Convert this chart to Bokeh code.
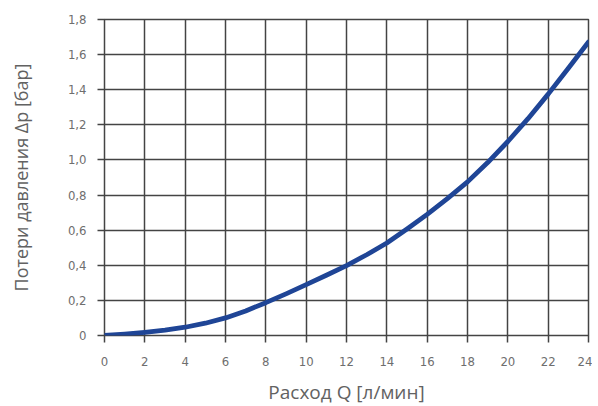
from bokeh.plotting import figure
from bokeh.models import Range1d, FixedTicker
from bokeh.embed import file_html
from bokeh.resources import INLINE

flow = [0, 1, 2, 3, 4, 5, 6, 7, 8, 9, 10, 11, 12, 13, 14, 15, 16, 17, 18, 19, 20, 21, 22, 23, 24]
dp = [0.0, 0.008, 0.018, 0.03, 0.047, 0.07, 0.10, 0.14, 0.187, 0.237, 0.29, 0.343, 0.398,
      0.46, 0.527, 0.607, 0.69, 0.78, 0.875, 0.985, 1.105, 1.235, 1.375, 1.522, 1.672]

x_ticks = [0, 2, 4, 6, 8, 10, 12, 14, 16, 18, 20, 22, 24]
y_ticks = [0, 0.2, 0.4, 0.6, 0.8, 1.0, 1.2, 1.4, 1.6, 1.8]
y_labels = ["0", "0,2", "0,4", "0,6", "0,8", "1,0", "1,2", "1,4", "1,6", "1,8"]

GRID = "#444444"
TICKTXT = "#6e6e6e"
TXT = "#626262"
TICKFONT = "'Liberation Sans Narrow', 'DejaVu Sans Condensed', 'Roboto', sans-serif"

p = figure(width=592, height=400, output_backend="svg", toolbar_location=None,
           x_range=Range1d(0, 24), y_range=Range1d(0, 1.8),
           min_border_left=104, min_border_right=4, min_border_top=19, min_border_bottom=65,
           frame_width=484, frame_height=316)

p.outline_line_color = GRID
p.outline_line_width = 1.5
p.background_fill_color = "white"
p.border_fill_color = "white"

p.xaxis.ticker = FixedTicker(ticks=x_ticks)
p.yaxis.ticker = FixedTicker(ticks=y_ticks)
p.yaxis.major_label_overrides = {t: l for t, l in zip(y_ticks, y_labels)}

for ax in (p.xaxis[0], p.yaxis[0]):
    ax.axis_line_color = None
    ax.major_tick_line_color = GRID
    ax.major_tick_line_width = 1.5
    ax.major_tick_out = 7
    ax.major_tick_in = 0
    ax.minor_tick_line_color = None
    ax.major_label_text_color = TICKTXT
    ax.major_label_text_font = TICKFONT
    ax.major_label_text_font_size = "13px"
    ax.axis_label_text_color = TXT
    ax.axis_label_text_font = "Open Sans"
    ax.axis_label_text_font_style = "normal"

p.xaxis.axis_label_text_font_size = "19px"
p.yaxis.axis_label_text_font_size = "18px"
p.xaxis.major_label_standoff = 14
p.yaxis.major_label_standoff = 11
p.xaxis.axis_label = "Расход Q [л/мин]"
p.yaxis.axis_label = "Потери давления Δр [бар]"
p.xaxis.axis_label_standoff = 10
p.yaxis.axis_label_standoff = 32

p.xgrid.ticker = FixedTicker(ticks=x_ticks)
p.ygrid.ticker = FixedTicker(ticks=y_ticks)
for g in (p.xgrid[0], p.ygrid[0]):
    g.grid_line_color = GRID
    g.grid_line_width = 1.5
    g.grid_line_alpha = 1.0

p.line(flow, dp, line_color="#1f4596", line_width=4.8, line_cap="round", line_join="round")

open("out.html", "w").write(file_html(p, INLINE))
